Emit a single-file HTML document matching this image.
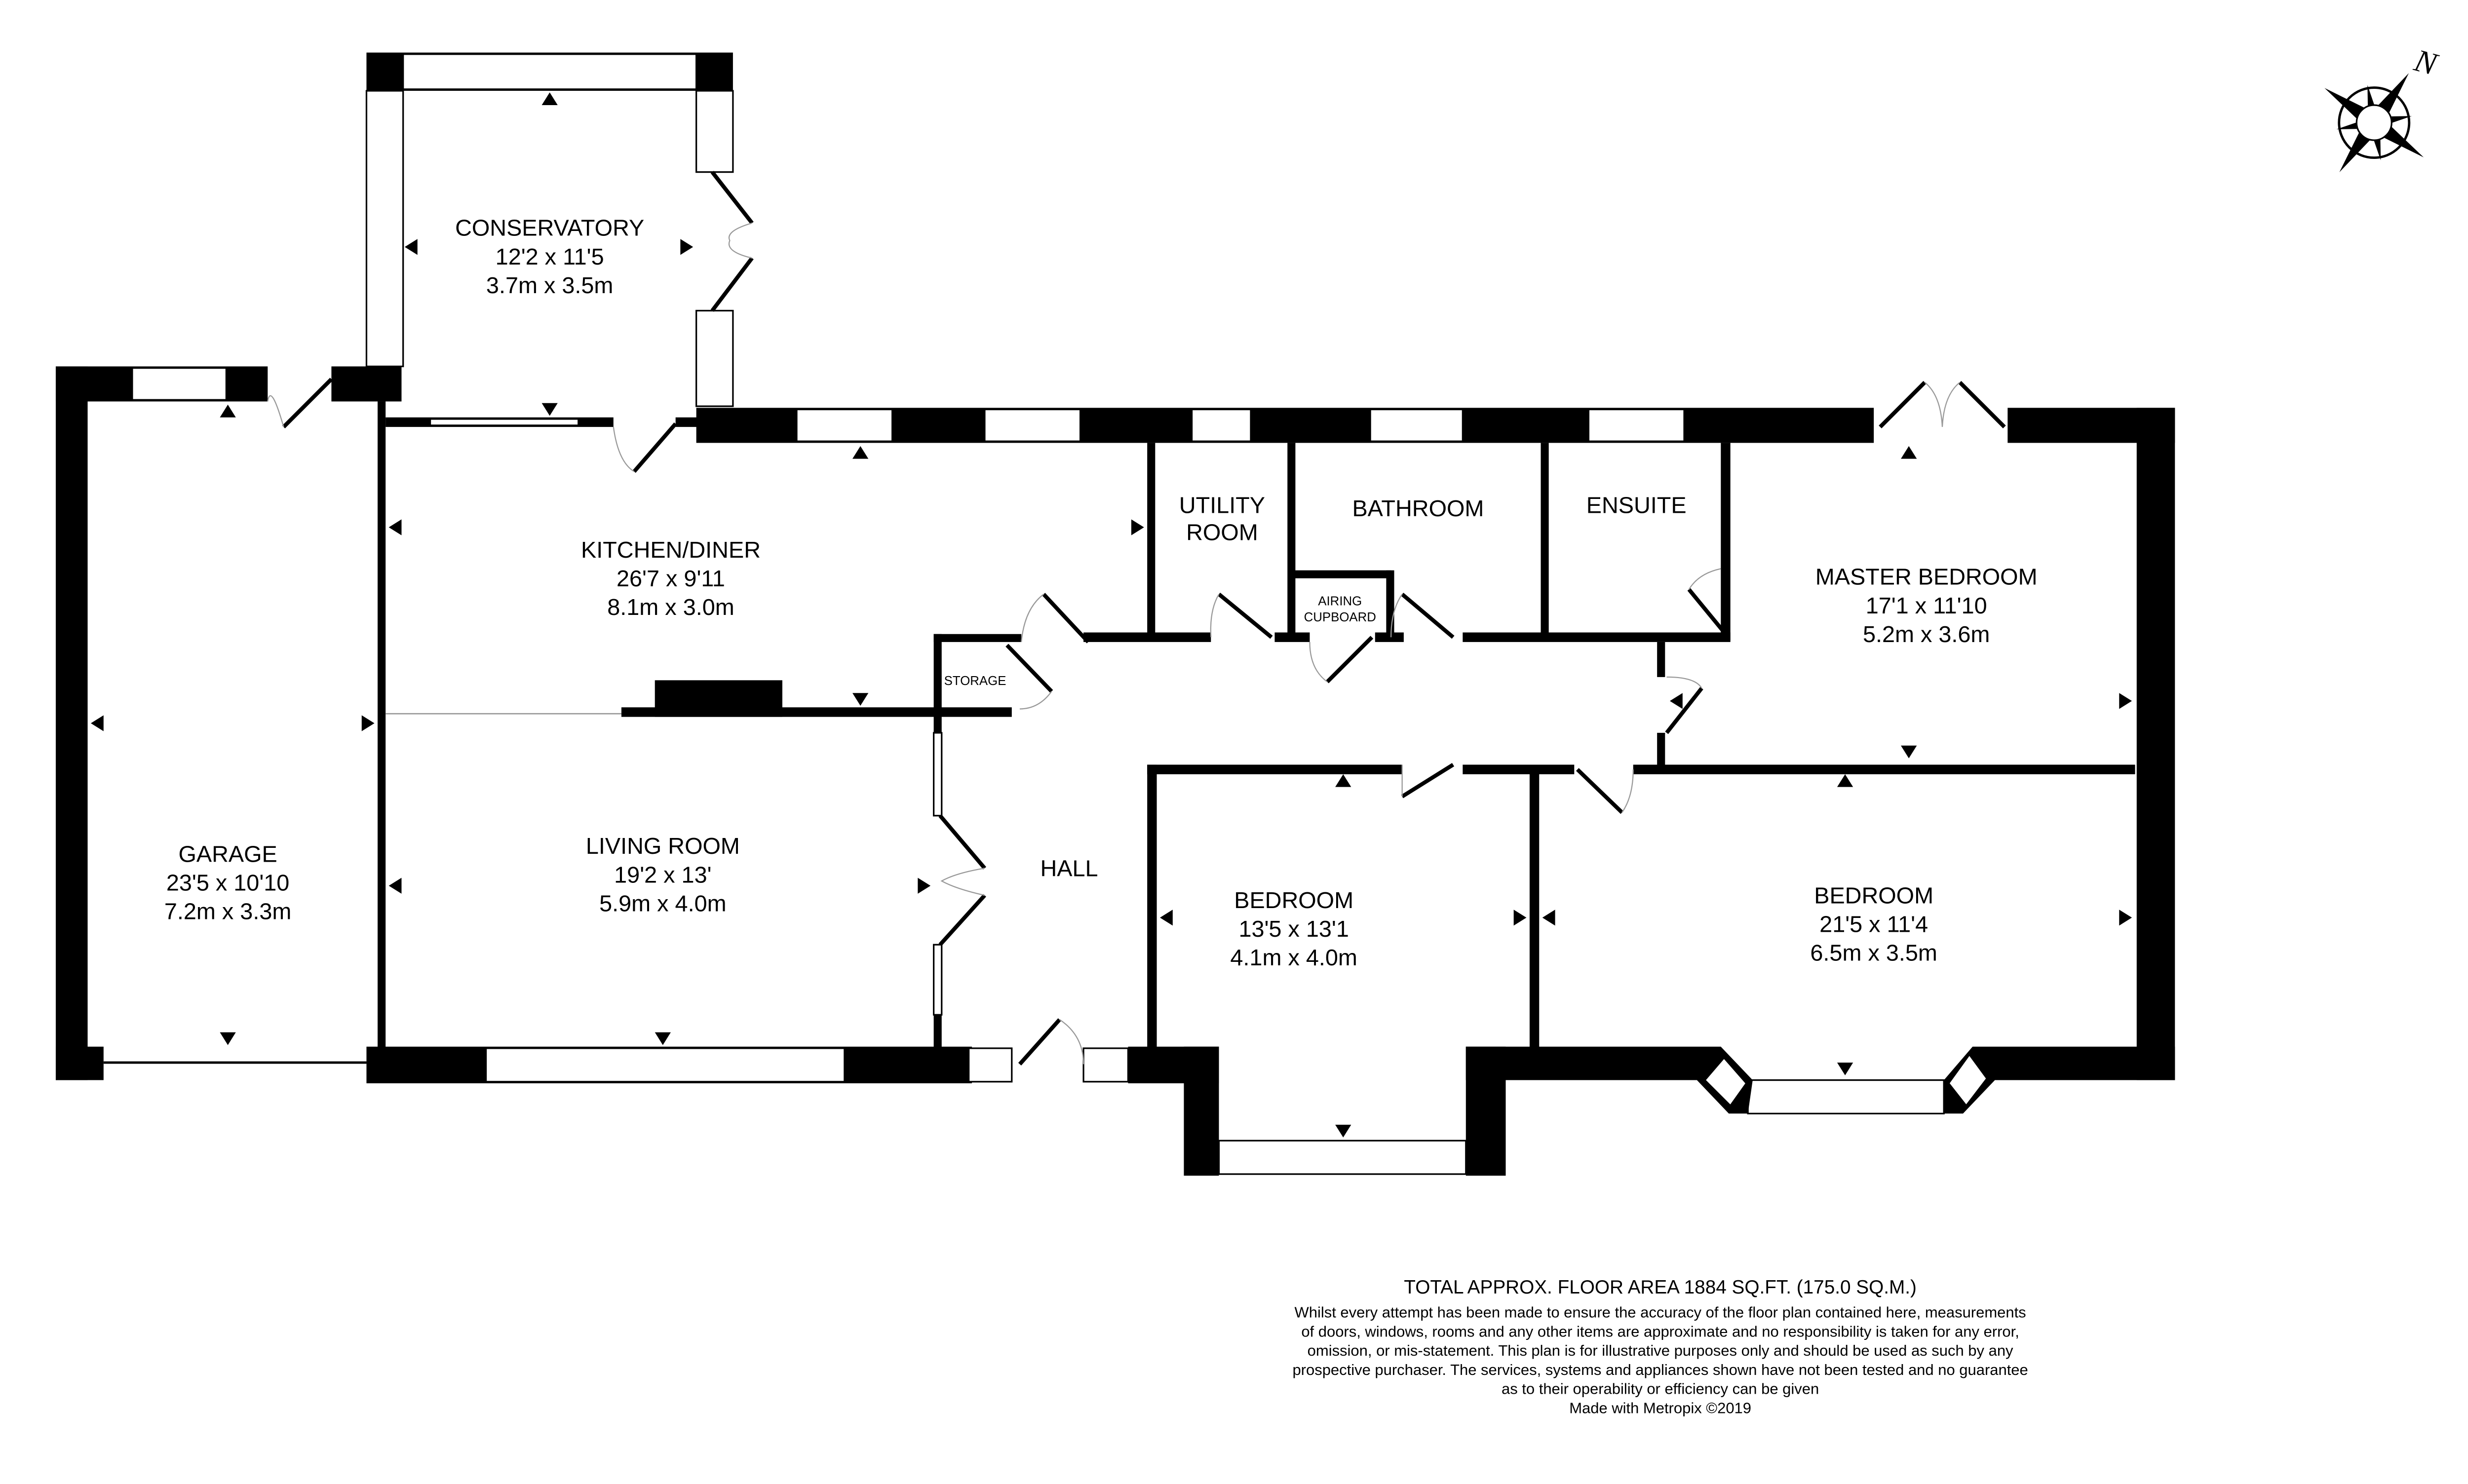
<!DOCTYPE html>
<html><head><meta charset="utf-8"><style>
html,body{margin:0;padding:0;background:#fff;overflow:hidden;width:5252px;height:3007px}
svg{display:block;position:absolute;left:0;top:0}
text{font-family:"Liberation Sans Narrow","Liberation Sans",sans-serif;fill:#000}
</style></head><body>
<svg xmlns="http://www.w3.org/2000/svg" width="5252" height="3007" style="width:5252px;height:3007px" viewBox="0 0 1627 931.5" preserveAspectRatio="xMinYMin meet">
<rect width="1627" height="931.5" fill="#fff"/>
<g fill="#000" stroke="none">
<rect x="35" y="230" width="20" height="448"/>
<rect x="35" y="230" width="133" height="22"/>
<rect x="35" y="657" width="30" height="21"/>
<rect x="208" y="230" width="44" height="22"/>
<rect x="237" y="252" width="5" height="408"/>
<rect x="230" y="33" width="230" height="24"/>
<rect x="437" y="256" width="739" height="22"/>
<rect x="1260" y="256" width="105" height="22"/>
<rect x="1341" y="256" width="24" height="422"/>
<rect x="242" y="262" width="143" height="6"/>
<rect x="424" y="262" width="14" height="6"/>
<rect x="230" y="657" width="380" height="23"/>
<rect x="708" y="657" width="57" height="23"/>
<rect x="743" y="657" width="22" height="81"/>
<rect x="920" y="657" width="25" height="81"/>
<rect x="920" y="657" width="160" height="21"/>
<rect x="1238" y="657" width="127" height="21"/>
<rect x="720" y="278" width="5" height="124"/>
<rect x="808" y="278" width="5" height="124"/>
<rect x="967" y="278" width="5" height="124"/>
<rect x="1080" y="278" width="6" height="124"/>
<rect x="680" y="397" width="80" height="6"/>
<rect x="800" y="397" width="22" height="6"/>
<rect x="863" y="397" width="18" height="6"/>
<rect x="918" y="397" width="168" height="6"/>
<rect x="811" y="358" width="62" height="5"/>
<rect x="870" y="358" width="5" height="44"/>
<rect x="1040" y="403" width="5" height="22"/>
<rect x="1040" y="460" width="5" height="24"/>
<rect x="1025" y="480" width="315" height="6"/>
<rect x="720" y="480" width="160" height="6"/>
<rect x="918" y="480" width="70" height="6"/>
<rect x="720" y="480" width="6" height="180"/>
<rect x="960" y="483" width="6" height="177"/>
<rect x="390" y="444" width="245" height="6"/>
<rect x="411" y="427" width="80" height="23"/>
<rect x="586" y="398" width="5" height="50"/>
<rect x="586" y="398" width="55" height="5"/>
<rect x="586" y="444" width="5" height="16"/>
<rect x="586" y="627" width="5" height="33"/>
</g>
<g fill="#fff" stroke="#000" stroke-width="1">
<rect x="83" y="231" width="59" height="20"/>
<rect x="253" y="34" width="184" height="22"/>
<rect x="230" y="57" width="23" height="173"/>
<rect x="437" y="57" width="23" height="51"/>
<rect x="437" y="195" width="23" height="60"/>
<rect x="270" y="263" width="93" height="4"/>
<rect x="500" y="257" width="60" height="20"/>
<rect x="618" y="257" width="60" height="20"/>
<rect x="748" y="257" width="37" height="20"/>
<rect x="860" y="257" width="58" height="20"/>
<rect x="997" y="257" width="60" height="20"/>
<rect x="305" y="658" width="225" height="21"/>
<rect x="608" y="658" width="27" height="21"/>
<rect x="680" y="658" width="28" height="21"/>
<rect x="765" y="716" width="155" height="21"/>
<rect x="1097" y="678" width="123" height="21"/>
<rect x="586" y="460" width="5" height="52"/>
<rect x="586" y="593" width="5" height="44"/>
</g>
<g fill="#000">
<polygon points="1065,678 1080,657 1100,678 1097,699 1085,699"/>
<polygon points="1238,657 1252,678 1232,699 1220,699 1220,678"/>
</g>
<g fill="#fff" stroke="#000" stroke-width="1">
<polygon points="1070,678 1082,664 1096,680 1086,694"/>
<polygon points="1236,662 1247,677 1234,694 1223,680"/>
</g>
<line x1="65" y1="667" x2="230" y2="667" stroke="#000" stroke-width="1.5"/>
<line x1="242" y1="448" x2="390" y2="448" stroke="#999" stroke-width="0.8"/>
<g stroke="#000" stroke-width="2.5" fill="none">
<line x1="178" y1="268" x2="208" y2="238"/>
<line x1="398" y1="296" x2="424" y2="266"/>
<line x1="447" y1="108" x2="472" y2="140"/>
<line x1="447" y1="195" x2="472" y2="162"/>
<line x1="655" y1="373" x2="683" y2="403"/>
<line x1="765" y1="373" x2="798" y2="400"/>
<line x1="833" y1="428" x2="861" y2="400"/>
<line x1="880" y1="373" x2="912" y2="400"/>
<line x1="1060" y1="370" x2="1083" y2="398"/>
<line x1="1046" y1="460" x2="1068" y2="432"/>
<line x1="632" y1="405" x2="660" y2="434"/>
<line x1="880" y1="500" x2="912" y2="480"/>
<line x1="990" y1="483" x2="1018" y2="510"/>
<line x1="1180" y1="268" x2="1208" y2="240"/>
<line x1="1230" y1="240" x2="1258" y2="268"/>
<line x1="590" y1="512" x2="618" y2="545"/>
<line x1="590" y1="593" x2="618" y2="562"/>
<line x1="640" y1="668" x2="665" y2="640"/>
</g>
<g stroke="#999" stroke-width="0.7" fill="none">
<path d="M168,252 Q170,240 178,268"/>
<path d="M385,268 Q388,290 398,296"/>
<path d="M472,140 Q455,145 458,151 Q455,158 472,162"/>
<path d="M655,373 Q643,382 641,403"/>
<path d="M765,373 Q759,383 760,400"/>
<path d="M822,403 Q822,420 833,428"/>
<path d="M880,373 Q873,383 873,400"/>
<path d="M1060,370 Q1066,360 1080,357"/>
<path d="M1046,425 Q1064,425 1068,432"/>
<path d="M660,434 Q652,445 640,445"/>
<path d="M880,480 Q880,493 880,500"/>
<path d="M1018,510 Q1025,500 1025,483"/>
<path d="M1208,240 Q1218,248 1219,268 Q1220,248 1230,240"/>
<path d="M618,545 Q600,548 591,553 Q600,558 618,562"/>
<path d="M665,640 Q680,650 680,668"/>
</g>
<g fill="#000">
<polygon points="138,262 148,262 143,254"/>
<polygon points="138,648 148,648 143,656"/>
<polygon points="65,449 65,459 57,454"/>
<polygon points="227,449 227,459 235,454"/>
<polygon points="340,66 350,66 345,58"/>
<polygon points="340,253 350,253 345,261"/>
<polygon points="262,150 262,160 254,155"/>
<polygon points="427,150 427,160 435,155"/>
<polygon points="535,288 545,288 540,280"/>
<polygon points="535,435 545,435 540,443"/>
<polygon points="252,326 252,336 244,331"/>
<polygon points="710,326 710,336 718,331"/>
<polygon points="411,648 421,648 416,656"/>
<polygon points="252,551 252,561 244,556"/>
<polygon points="576,551 576,561 584,556"/>
<polygon points="838,494 848,494 843,486"/>
<polygon points="838,706 848,706 843,714"/>
<polygon points="736,571 736,581 728,576"/>
<polygon points="950,571 950,581 958,576"/>
<polygon points="976,571 976,581 968,576"/>
<polygon points="1330,571 1330,581 1338,576"/>
<polygon points="1193,288 1203,288 1198,280"/>
<polygon points="1193,468 1203,468 1198,476"/>
<polygon points="1330,435 1330,445 1338,440"/>
<polygon points="1056,435 1056,445 1048,440"/>
<polygon points="1153,494 1163,494 1158,486"/>
<polygon points="1153,667 1163,667 1158,675"/>
</g>
<g text-anchor="middle" font-size="14.5">
<text x="345" y="148">CONSERVATORY</text><text x="345" y="166">12'2 x 11'5</text><text x="345" y="184">3.7m x 3.5m</text>
<text x="421" y="350">KITCHEN/DINER</text><text x="421" y="368">26'7 x 9'11</text><text x="421" y="386">8.1m x 3.0m</text>
<text x="143" y="541">GARAGE</text><text x="143" y="559">23'5 x 10'10</text><text x="143" y="577">7.2m x 3.3m</text>
<text x="416" y="536">LIVING ROOM</text><text x="416" y="554">19'2 x 13'</text><text x="416" y="572">5.9m x 4.0m</text>
<text x="671" y="550">HALL</text>
<text x="812" y="570">BEDROOM</text><text x="812" y="588">13'5 x 13'1</text><text x="812" y="606">4.1m x 4.0m</text>
<text x="1176" y="567">BEDROOM</text><text x="1176" y="585">21'5 x 11'4</text><text x="1176" y="603">6.5m x 3.5m</text>
<text x="1209" y="367">MASTER BEDROOM</text><text x="1209" y="385">17'1 x 11'10</text><text x="1209" y="403">5.2m x 3.6m</text>
<text x="767" y="322">UTILITY</text><text x="767" y="339">ROOM</text>
<text x="890" y="324">BATHROOM</text>
<text x="1027" y="322">ENSUITE</text>
<text x="841" y="380" font-size="8">AIRING</text><text x="841" y="390" font-size="8">CUPBOARD</text>
<text x="612" y="430" font-size="8">STORAGE</text>
</g>
<g text-anchor="middle">
<text x="1042" y="812" font-size="12" style="font-family:'Liberation Sans',sans-serif">TOTAL APPROX. FLOOR AREA 1884 SQ.FT. (175.0 SQ.M.)</text>
<g font-size="9.6" style="font-family:'Liberation Sans',sans-serif">
<text x="1042" y="827">Whilst every attempt has been made to ensure the accuracy of the floor plan contained here, measurements</text>
<text x="1042" y="839">of doors, windows, rooms and any other items are approximate and no responsibility is taken for any error,</text>
<text x="1042" y="851">omission, or mis-statement. This plan is for illustrative purposes only and should be used as such by any</text>
<text x="1042" y="863">prospective purchaser. The services, systems and appliances shown have not been tested and no guarantee</text>
<text x="1042" y="875">as to their operability or efficiency can be given</text>
<text x="1042" y="887">Made with Metropix ©2019</text>
</g></g>
<g transform="translate(1490,77)">
<circle r="22" fill="none" stroke="#000" stroke-width="1.5"/>
<g transform="rotate(35)">
<polygon points="0,-38 5,-5 -5,-5" fill="#000"/>
<polygon points="0,38 5,5 -5,5" fill="#000"/>
<polygon points="-38,0 -5,5 -5,-5" fill="#000"/>
<polygon points="38,0 5,5 5,-5" fill="#000"/>
<g transform="rotate(45)">
<polygon points="0,-24 3,-5 -3,-5" fill="#000"/>
<polygon points="0,24 3,5 -3,5" fill="#000"/>
<polygon points="-24,0 -5,3 -5,-3" fill="#000"/>
<polygon points="24,0 5,3 5,-3" fill="#000"/>
</g></g>
<circle r="11" fill="#fff" stroke="#000" stroke-width="1"/>
<text x="26" y="-33" font-size="20" font-style="italic" style="font-family:'Liberation Serif',serif" transform="rotate(15 26 -40)">N</text>
</g>
</svg>
</body></html>
